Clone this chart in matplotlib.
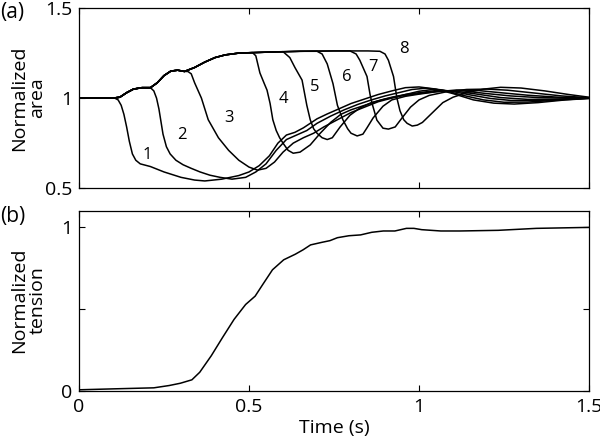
import numpy as np
import matplotlib
matplotlib.use("Agg")
import matplotlib.pyplot as plt

plt.rcParams["font.family"] = ["Open Sans", "DejaVu Sans"]

# ── shared part of the area traces before each release ─────────────────────
ENV_T = [0.0, 0.10, 0.12, 0.14, 0.16, 0.185, 0.21, 0.23, 0.25, 0.27, 0.29, 0.31,
         0.34, 0.37, 0.40, 0.43, 0.47, 0.55, 0.65, 0.75, 0.85, 0.90, 0.95]
ENV_Y = [1.0, 1.0, 1.005, 1.03, 1.05, 1.058, 1.058, 1.085, 1.125, 1.15, 1.155, 1.148,
         1.17, 1.20, 1.225, 1.24, 1.25, 1.255, 1.26, 1.262, 1.262, 1.26, 1.26]

# ── per-trace values after release (t, normalized area) ──────────────────────
C1_T = [0.105, 0.115, 0.124, 0.132, 0.14, 0.148, 0.157, 0.167, 0.18, 0.21, 0.25, 0.30,
        0.34, 0.37, 0.42, 0.47, 0.50, 0.53, 0.56, 0.585, 0.61, 0.635, 0.66, 0.70, 0.73,
        0.77, 0.80, 0.84, 0.88, 0.92, 0.96, 1.0, 1.05, 1.10, 1.16, 1.22, 1.28, 1.35, 1.43, 1.5]
C1_Y = [1.0, 0.99, 0.96, 0.91, 0.84, 0.76, 0.69, 0.655, 0.635, 0.62, 0.59, 0.56,
        0.545, 0.54, 0.55, 0.57, 0.59, 0.625, 0.68, 0.75, 0.795, 0.81, 0.835, 0.885, 0.912,
        0.945, 0.97, 0.995, 1.02, 1.04, 1.058, 1.062, 1.05, 1.025, 0.99, 0.972, 0.967, 0.975, 0.99, 0.998]

C2_T = [0.21, 0.22, 0.228, 0.235, 0.247, 0.257, 0.268, 0.285, 0.306, 0.33, 0.356, 0.385,
        0.415, 0.45, 0.49, 0.52, 0.55, 0.58, 0.61, 0.64, 0.67, 0.70, 0.74, 0.78, 0.82,
        0.86, 0.90, 0.94, 0.98, 1.02, 1.07, 1.13, 1.19, 1.25, 1.32, 1.40, 1.5]
C2_Y = [1.058, 1.04, 1.0, 0.94, 0.80, 0.73, 0.69, 0.655, 0.63, 0.61, 0.59, 0.572,
        0.56, 0.55, 0.56, 0.59, 0.635, 0.71, 0.77, 0.795, 0.82, 0.86, 0.90, 0.935, 0.965,
        0.99, 1.012, 1.03, 1.048, 1.055, 1.045, 1.015, 0.99, 0.977, 0.978, 0.988, 0.999]

C3_T = [0.32, 0.33, 0.34, 0.36, 0.38, 0.41, 0.44, 0.47, 0.50, 0.525, 0.55, 0.575, 0.60,
        0.63, 0.66, 0.69, 0.72, 0.76, 0.80, 0.84, 0.88, 0.92, 0.96, 1.0, 1.04, 1.09,
        1.15, 1.21, 1.27, 1.35, 1.43, 1.5]
C3_Y = [1.148, 1.135, 1.085, 1.0, 0.88, 0.78, 0.71, 0.655, 0.617, 0.60, 0.61, 0.645, 0.70,
        0.75, 0.78, 0.805, 0.84, 0.88, 0.92, 0.95, 0.98, 1.0, 1.02, 1.038, 1.048, 1.04,
        1.018, 0.998, 0.987, 0.987, 0.994, 1.0]

C4_T = [0.51, 0.52, 0.532, 0.545, 0.553, 0.562, 0.57, 0.58, 0.59, 0.60, 0.615, 0.63, 0.65,
        0.68, 0.71, 0.74, 0.77, 0.80, 0.84, 0.88, 0.92, 0.96, 1.0, 1.05, 1.10, 1.16,
        1.24, 1.32, 1.41, 1.5]
C4_Y = [1.253, 1.235, 1.14, 1.08, 1.044, 0.97, 0.88, 0.82, 0.78, 0.75, 0.71, 0.694, 0.70,
        0.74, 0.806, 0.865, 0.91, 0.935, 0.96, 0.985, 1.005, 1.02, 1.03, 1.042, 1.04, 1.025,
        1.003, 0.993, 0.994, 1.0]

C5_T = [0.60, 0.62, 0.635, 0.656, 0.67, 0.68, 0.69, 0.70, 0.715, 0.73, 0.745, 0.768,
        0.797, 0.826, 0.86, 0.90, 0.94, 0.98, 1.02, 1.07, 1.13, 1.20, 1.27, 1.35, 1.43, 1.5]
C5_Y = [1.258, 1.225, 1.17, 1.10, 0.96, 0.88, 0.83, 0.805, 0.78, 0.77, 0.78, 0.84,
        0.905, 0.945, 0.975, 0.995, 1.01, 1.02, 1.03, 1.04, 1.04, 1.025, 1.012, 1.003, 1.0, 1.0]

C6_T = [0.70, 0.715, 0.73, 0.747, 0.76, 0.776, 0.79, 0.80, 0.818, 0.835, 0.847, 0.865,
        0.894, 0.92, 0.96, 1.0, 1.05, 1.11, 1.17, 1.24, 1.32, 1.41, 1.5]
C6_Y = [1.26, 1.245, 1.19, 1.08, 0.96, 0.88, 0.83, 0.805, 0.79, 0.80, 0.835, 0.89,
        0.955, 0.99, 1.01, 1.022, 1.035, 1.045, 1.043, 1.03, 1.016, 1.005, 1.0]

C7_T = [0.797, 0.815, 0.826, 0.847, 0.856, 0.862, 0.876, 0.894, 0.91, 0.93, 0.95, 0.975,
        1.0, 1.03, 1.08, 1.14, 1.20, 1.26, 1.34, 1.42, 1.5]
C7_Y = [1.262, 1.245, 1.21, 1.12, 1.02, 0.97, 0.878, 0.833, 0.828, 0.84, 0.89, 0.95,
        0.99, 1.015, 1.035, 1.048, 1.05, 1.044, 1.028, 1.012, 1.002]

C8_T = [0.885, 0.90, 0.91, 0.92, 0.925, 0.935, 0.944, 0.955, 0.965, 0.98, 0.995, 1.01,
        1.04, 1.07, 1.10, 1.14, 1.19, 1.24, 1.30, 1.37, 1.44, 1.5]
C8_Y = [1.26, 1.245, 1.21, 1.15, 1.12, 1.0, 0.93, 0.88, 0.86, 0.845, 0.85, 0.865,
        0.92, 0.975, 1.005, 1.03, 1.05, 1.06, 1.056, 1.04, 1.02, 1.005]

TRACES = [(C1_T, C1_Y), (C2_T, C2_Y), (C3_T, C3_Y), (C4_T, C4_Y),
          (C5_T, C5_Y), (C6_T, C6_Y), (C7_T, C7_Y), (C8_T, C8_Y)]
LABELS = ["1", "2", "3", "4", "5", "6", "7", "8"]
LABEL_T = [0.20, 0.303, 0.44, 0.60, 0.694, 0.788, 0.866, 0.956]
LABEL_Y = [0.683, 0.794, 0.89, 0.994, 1.06, 1.12, 1.17, 1.27]

# ── normalized tension ────────────────────────────────────────────────────────
TEN_T = [0.0, 0.107, 0.22, 0.265, 0.298, 0.332, 0.355, 0.389, 0.422, 0.456, 0.49, 0.518,
         0.54, 0.569, 0.602, 0.636, 0.659, 0.681, 0.715, 0.738, 0.76, 0.794, 0.828, 0.861,
         0.895, 0.929, 0.963, 0.985, 1.008, 1.064, 1.12, 1.233, 1.345, 1.5]
TEN_Y = [0.008, 0.014, 0.02, 0.034, 0.048, 0.069, 0.115, 0.216, 0.327, 0.438, 0.529, 0.58,
         0.65, 0.741, 0.802, 0.836, 0.863, 0.893, 0.909, 0.919, 0.937, 0.949, 0.954, 0.97,
         0.978, 0.978, 0.994, 0.994, 0.986, 0.978, 0.978, 0.982, 0.994, 1.0]

FS = 14


def _style(ax):
    ax.tick_params(direction="in", top=True, right=True, length=4, width=0.8,
                   labelsize=FS, pad=5)
    for sp in ax.spines.values():
        sp.set_linewidth(0.9)
    ax.set_xlim(0, 1.5)


fig = plt.figure(figsize=(6.0, 4.48), dpi=100)
ax1 = fig.add_axes([0.1317, 0.580, 0.850, 0.402])
ax2 = fig.add_axes([0.1317, 0.127, 0.850, 0.402])

for (tt, yy) in TRACES:
    t0 = tt[0]
    t = [e for e in ENV_T if e < t0] + list(tt)
    y = [v for e, v in zip(ENV_T, ENV_Y) if e < t0] + list(yy)
    ax1.plot(t, y, color="black", lw=1.1)
for lab, lt, ly in zip(LABELS, LABEL_T, LABEL_Y):
    ax1.text(lt, ly, lab, fontsize=12, ha="center", va="center")
_style(ax1)
ax1.set_ylim(0.5, 1.5)
ax1.set_xticks([0, 0.5, 1, 1.5]); ax1.set_xticklabels([])
ax1.set_yticks([0.5, 1, 1.5]); ax1.set_yticklabels(["0.5", "1", "1.5"])

ax2.plot(TEN_T, TEN_Y, color="black", lw=1.1)
_style(ax2)
ax2.set_ylim(0, 1.1)
ax2.set_xticks([0, 0.5, 1, 1.5]); ax2.set_xticklabels(["0", "0.5", "1", "1.5"])
ax2.set_yticks([0, 0.5, 1]); ax2.set_yticklabels(["0", "", "1"])
ax2.set_xlabel("Time (s)", fontsize=FS, labelpad=2)

fig.text(0.047, 1 - 98 / 448, "Normalized\narea", rotation=90, ha="center",
         va="center", fontsize=FS, multialignment="center", linespacing=1.05)
fig.text(0.047, 1 - 300 / 448, "Normalized\ntension", rotation=90, ha="center",
         va="center", fontsize=FS, multialignment="center", linespacing=1.05)
fig.text(0.0, 0.972, "(a)", fontsize=FS + 1, ha="left", va="center")
fig.text(0.0, 1 - 216 / 448, "(b)", fontsize=FS + 1, ha="left", va="center")

fig.savefig("out.png", dpi=100)
